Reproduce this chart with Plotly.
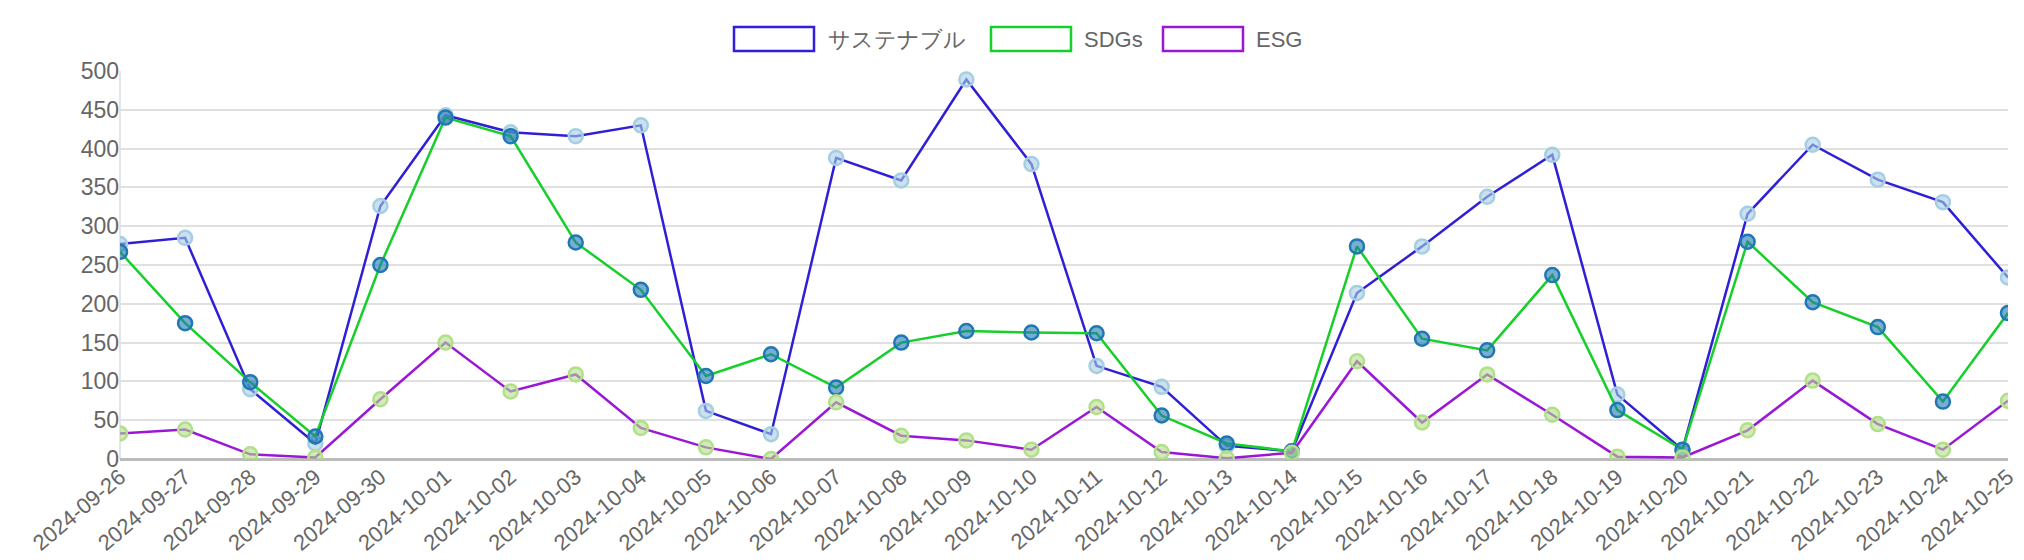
import plotly.graph_objects as go

dates = ['2024-09-26', '2024-09-27', '2024-09-28', '2024-09-29', '2024-09-30',
         '2024-10-01', '2024-10-02', '2024-10-03', '2024-10-04', '2024-10-05',
         '2024-10-06', '2024-10-07', '2024-10-08', '2024-10-09', '2024-10-10',
         '2024-10-11', '2024-10-12', '2024-10-13', '2024-10-14', '2024-10-15',
         '2024-10-16', '2024-10-17', '2024-10-18', '2024-10-19', '2024-10-20',
         '2024-10-21', '2024-10-22', '2024-10-23', '2024-10-24', '2024-10-25']

sustainable = [277, 285, 90, 20, 326, 443, 421, 416, 430, 62, 32, 388, 359, 489, 380,
               120, 93, 17, 10, 214, 274, 338, 392, 83, 12, 316, 405, 360, 331, 234]
sdgs = [267, 175, 99, 29, 250, 440, 416, 279, 218, 107, 135, 92, 150, 165, 163,
        162, 56, 20, 10, 274, 155, 140, 237, 63, 12, 280, 202, 170, 74, 188]
esg = [33, 38, 6, 2, 77, 150, 87, 109, 40, 15, 0, 73, 30, 24, 12,
       67, 9, 1, 8, 126, 47, 109, 57, 3, 2, 37, 101, 45, 12, 75]

series = [
    ('サステナブル', sustainable, '#2f1fd6', 'rgba(166,206,227,0.6)', 'rgba(166,206,227,1)'),
    ('SDGs', sdgs, '#17cf2a', 'rgba(31,120,180,0.6)', 'rgba(31,120,180,1)'),
    ('ESG', esg, '#9a17d6', 'rgba(178,223,138,0.6)', 'rgba(178,223,138,1)'),
]

W, H = 2024, 560
L, R, T, B = 112, 2000, 63, 451

fig = go.Figure()
for name, vals, color, fill, edge in series:
    fig.add_trace(go.Scatter(
        x=dates, y=vals, name=name, mode='lines+markers',
        line=dict(color=color, width=2.5),
        marker=dict(size=14, color=fill, line=dict(color=edge, width=2.5)),
        showlegend=False))

# legend drawn as chart.js style boxes
def px(x):
    return (x - L) / (R - L)

def py(y):
    return (B - y) / (B - T)

legend = [(726, 818), (983, 1074), (1155, 1246)]
shapes = []
annotations = []
for (bx, tx), (name, _, color, _, _) in zip(legend, series):
    shapes.append(dict(type='rect', xref='paper', yref='paper',
                       x0=px(bx), x1=px(bx + 80), y0=py(43), y1=py(19),
                       line=dict(color=color, width=2.5), fillcolor='rgba(0,0,0,0)'))
    annotations.append(dict(text=name, xref='paper', yref='paper', x=px(tx), y=py(31),
                            xanchor='left', yanchor='middle', showarrow=False,
                            font=dict(size=22, color='#666')))

fig.update_layout(
    width=W, height=H,
    margin=dict(l=L, r=W - R, t=T, b=H - B),
    plot_bgcolor='white', paper_bgcolor='white',
    font=dict(family='Liberation Sans, Arial, sans-serif', color='#666', size=22),
    shapes=shapes, annotations=annotations,
    xaxis=dict(type='category', range=[0, len(dates) - 1], tickangle=-40,
               showgrid=False, showline=False,
               tickfont=dict(size=22), ticks='', zeroline=False),
    yaxis=dict(range=[0, 500], dtick=50, gridcolor='#e0e0e0', gridwidth=2,
               zeroline=True, zerolinecolor='#bbbbbb', zerolinewidth=2.5,
               tickfont=dict(size=23), ticks=''),
)
# only the left vertical gridline is shown in the reference
fig.add_shape(type='line', xref='paper', yref='paper', x0=0, x1=0, y0=0, y1=1,
              line=dict(color='#e5e5e5', width=2), layer='below')

fig.write_html('out.html')
